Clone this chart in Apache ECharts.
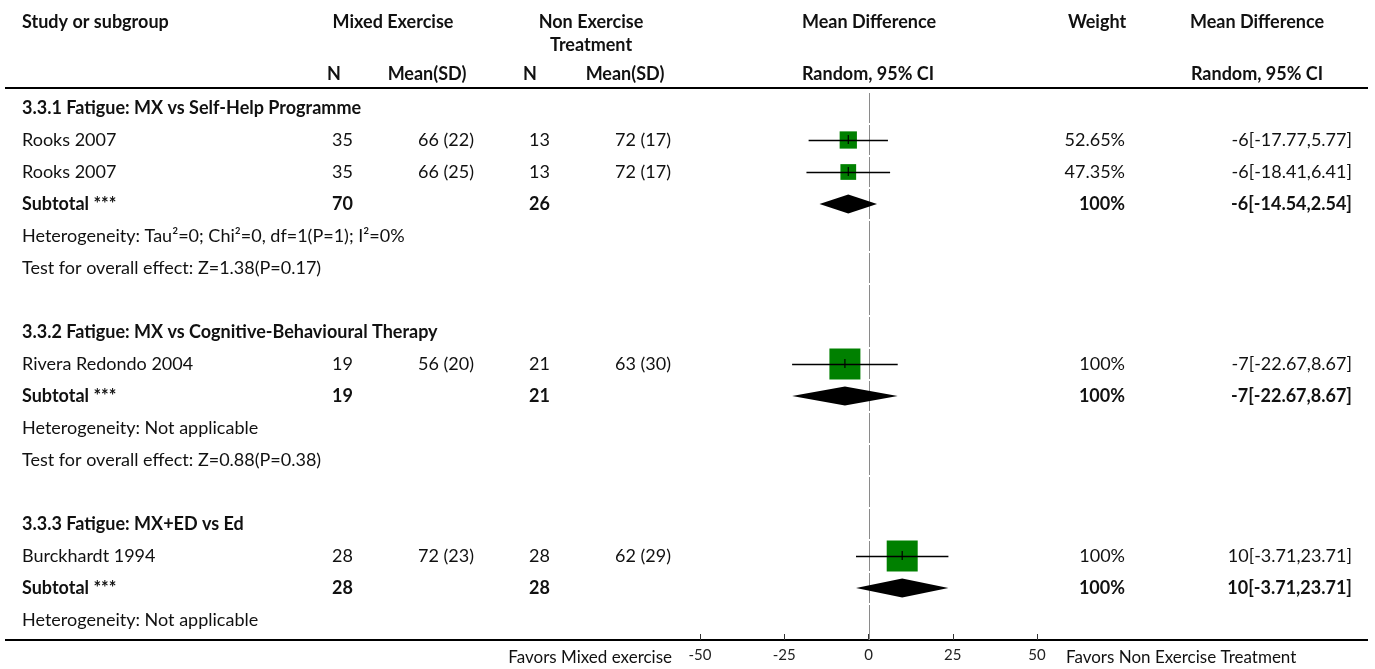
<!DOCTYPE html>
<html>
<head>
<meta charset="utf-8">
<title>Fatigue: Mixed Exercise vs Non Exercise Treatment</title>
<script src="https://cdn.jsdelivr.net/npm/echarts@6/dist/echarts.min.js"></script>
<style>
  html, body { margin: 0; padding: 0; background: #fff; }
  #chart { width: 1375px; height: 669px; }
</style>
</head>
<body>
<div id="chart"></div>
<script>
// ---- Study-level data ----
const studyNames = ['Rooks 2007', 'Rooks 2007', 'Rivera Redondo 2004', 'Burckhardt 1994'];
const studyGroup = [0, 0, 1, 2];
const mxN = [35, 35, 19, 28];
const mxMean = [66, 66, 56, 72];
const mxSD = [22, 25, 20, 23];
const ctN = [13, 13, 21, 28];
const ctMean = [72, 72, 63, 62];
const ctSD = [17, 17, 30, 29];
const studyMD = [-6, -6, -7, 10];
const studyLo = [-17.77, -18.41, -22.67, -3.71];
const studyHi = [5.77, 6.41, 8.67, 23.71];
const studyWeight = [52.65, 47.35, 100, 100];

// ---- Subgroup data ----
const groupTitles = [
  '3.3.1 Fatigue: MX vs Self-Help Programme',
  '3.3.2 Fatigue: MX vs Cognitive-Behavioural Therapy',
  '3.3.3 Fatigue: MX+ED vs Ed'
];
const groupMxN = [70, 19, 28];
const groupCtN = [26, 21, 28];
const groupMD = [-6, -7, 10];
const groupLo = [-14.54, -22.67, -3.71];
const groupHi = [2.54, 8.67, 23.71];
const groupWeight = [100, 100, 100];
const groupHet = [
  'Heterogeneity: Tau\u00B2=0; Chi\u00B2=0, df=1(P=1); I\u00B2=0%',
  'Heterogeneity: Not applicable',
  'Heterogeneity: Not applicable'
];
const groupTest = [
  'Test for overall effect: Z=1.38(P=0.17)',
  'Test for overall effect: Z=0.88(P=0.38)',
  null
];

// ---- Axis ----
const xTicks = [-50, -25, 0, 25, 50];
const axisLeftLabel = 'Favors Mixed exercise';
const axisRightLabel = 'Favors Non Exercise Treatment';

// ---- Build the table rows ----
const rows = [];
groupTitles.forEach((title, g) => {
  rows.push({ kind: 'group', label: title });
  studyNames.forEach((name, s) => {
    if (studyGroup[s] !== g) return;
    rows.push({
      kind: 'study', label: name, study: s,
      mxN: String(mxN[s]), mxMS: mxMean[s] + ' (' + mxSD[s] + ')',
      ctN: String(ctN[s]), ctMS: ctMean[s] + ' (' + ctSD[s] + ')',
      weight: studyWeight[s] + '%',
      ci: studyMD[s] + '[' + studyLo[s] + ',' + studyHi[s] + ']'
    });
  });
  rows.push({
    kind: 'total', label: 'Subtotal ***', group: g,
    mxN: String(groupMxN[g]), ctN: String(groupCtN[g]),
    weight: groupWeight[g] + '%',
    ci: groupMD[g] + '[' + groupLo[g] + ',' + groupHi[g] + ']'
  });
  rows.push({ kind: 'note', label: groupHet[g] });
  if (groupTest[g]) rows.push({ kind: 'note', label: groupTest[g] });
  if (g < groupTitles.length - 1) rows.push({ kind: 'blank', label: '' });
});

const FONT = 'Lato, "Noto Sans", sans-serif';
const INK = '#111';
const BODY_SIZE = 18;

// column anchors (pixels) for the table text
const COLS = {
  label: { x: 22, align: 'left' },
  mxN: { x: 353, align: 'right' },
  mxMS: { x: 474, align: 'right' },
  ctN: { x: 550, align: 'right' },
  ctMS: { x: 671, align: 'right' },
  weight: { x: 1125, align: 'right' },
  ci: { x: 1352, align: 'right' }
};

function textEl(x, y, str, align, bold, size) {
  return {
    type: 'text',
    style: {
      x: x, y: y, text: str,
      align: align, verticalAlign: 'middle',
      textAlign: align, textVerticalAlign: 'middle',
      fontFamily: FONT, fontSize: size || BODY_SIZE,
      fontWeight: bold ? 'bold' : 'normal',
      fill: INK
    }
  };
}

const chart = echarts.init(document.getElementById('chart'), null, { renderer: 'canvas' });

const headerY1 = 22, headerY2 = 45, headerY3 = 74;
const graphics = [
  textEl(22, headerY1, 'Study or subgroup', 'left', true),
  textEl(393, headerY1, 'Mixed Exercise', 'center', true),
  textEl(591, headerY1, 'Non Exercise', 'center', true),
  textEl(591, headerY2, 'Treatment', 'center', true),
  textEl(869, headerY1, 'Mean Difference', 'center', true),
  textEl(1097, headerY1, 'Weight', 'center', true),
  textEl(1257, headerY1, 'Mean Difference', 'center', true),
  textEl(334, headerY3, 'N', 'center', true),
  textEl(427, headerY3, 'Mean(SD)', 'center', true),
  textEl(530, headerY3, 'N', 'center', true),
  textEl(625, headerY3, 'Mean(SD)', 'center', true),
  textEl(868, headerY3, 'Random, 95% CI', 'center', true),
  textEl(1257, headerY3, 'Random, 95% CI', 'center', true),
  { type: 'line', shape: { x1: 5, y1: 88, x2: 1368, y2: 88 }, style: { stroke: '#000', lineWidth: 2 } },
  { type: 'line', shape: { x1: 5, y1: 640, x2: 1368, y2: 640 }, style: { stroke: '#000', lineWidth: 2 } },
  textEl(672, 658, axisLeftLabel, 'right', false, 17),
  textEl(1066, 658, axisRightLabel, 'left', false, 17)
];

const studyData = rows.map((r, i) => r.kind === 'study'
  ? [studyMD[r.study], i, studyLo[r.study], studyHi[r.study], studyWeight[r.study]] : null)
  .filter(Boolean);
const totalData = rows.map((r, i) => r.kind === 'total'
  ? [groupMD[r.group], i, groupLo[r.group], groupHi[r.group]] : null)
  .filter(Boolean);

const option = {
  animation: false,
  graphic: graphics,
  grid: { left: 700, right: 338, top: 92, bottom: 29, containLabel: false },
  xAxis: {
    type: 'value', min: -50, max: 50, interval: 25, position: 'bottom',
    axisLine: { show: false, onZero: false },
    axisTick: { show: true, inside: true, length: 6, lineStyle: { color: '#333', width: 1 } },
    axisLabel: {
      margin: 8, color: '#222', fontFamily: FONT, fontSize: 15,
      formatter: v => xTicks.indexOf(v) >= 0 ? String(v) : ''
    },
    splitLine: { show: false }
  },
  yAxis: {
    type: 'value', min: -0.5, max: 16.625, inverse: true, show: false
  },
  series: [
    {
      // zero reference line, one segment per row
      type: 'custom', clip: false, silent: true, z: 1,
      data: rows.map((r, i) => [0, i]),
      renderItem: (params, api) => {
        const p = api.coord([0, api.value(1)]);
        const last = api.value(1) === rows.length - 1;
        const x = Math.round(p[0]) + 0.5;
        return {
          type: 'line',
          shape: { x1: x, y1: p[1] - 15, x2: x, y2: last ? p[1] + 20 : p[1] + 15 },
          style: { stroke: '#8a8a8a', lineWidth: 1 }
        };
      }
    },
    {
      // study estimates: weighted square with CI whisker
      type: 'custom', clip: false, silent: true, z: 3,
      data: studyData,
      renderItem: (params, api) => {
        const c = api.coord([api.value(0), api.value(1)]);
        const lo = api.coord([api.value(2), api.value(1)]);
        const hi = api.coord([api.value(3), api.value(1)]);
        const size = 2 + 29 * api.value(4) / 100;
        const y = Math.round(c[1]) + 0.5;
        return {
          type: 'group',
          children: [
            { type: 'rect', shape: { x: c[0] - size / 2, y: c[1] - size / 2, width: size, height: size }, style: { fill: '#008000' } },
            { type: 'line', shape: { x1: lo[0], y1: y, x2: hi[0], y2: y }, style: { stroke: '#000', lineWidth: 1.5 } },
            { type: 'line', shape: { x1: c[0], y1: c[1] - 5, x2: c[0], y2: c[1] + 4 }, style: { stroke: '#000', lineWidth: 1.2 } }
          ]
        };
      }
    },
    {
      // pooled subgroup estimates as diamonds
      type: 'custom', clip: false, silent: true, z: 3,
      data: totalData,
      renderItem: (params, api) => {
        const c = api.coord([api.value(0), api.value(1)]);
        const lo = api.coord([api.value(2), api.value(1)]);
        const hi = api.coord([api.value(3), api.value(1)]);
        const h = 9.5;
        return {
          type: 'polygon',
          shape: { points: [[lo[0], c[1]], [c[0], c[1] - h], [hi[0], c[1]], [c[0], c[1] + h]] },
          style: { fill: '#000' }
        };
      }
    },
    {
      // table text
      type: 'custom', clip: false, silent: true, z: 4,
      data: rows.map((r, i) => [0, i]),
      renderItem: (params, api) => {
        const i = api.value(1);
        const r = rows[i];
        const y = api.coord([0, i])[1];
        const bold = r.kind === 'group' || r.kind === 'total';
        const kids = [];
        if (r.label) kids.push(textEl(COLS.label.x, y, r.label, COLS.label.align, bold));
        ['mxN', 'mxMS', 'ctN', 'ctMS', 'weight', 'ci'].forEach(k => {
          if (r[k]) kids.push(textEl(COLS[k].x, y, r[k], COLS[k].align, r.kind === 'total'));
        });
        return { type: 'group', children: kids };
      }
    }
  ]
};

chart.setOption(option);
</script>
</body>
</html>
